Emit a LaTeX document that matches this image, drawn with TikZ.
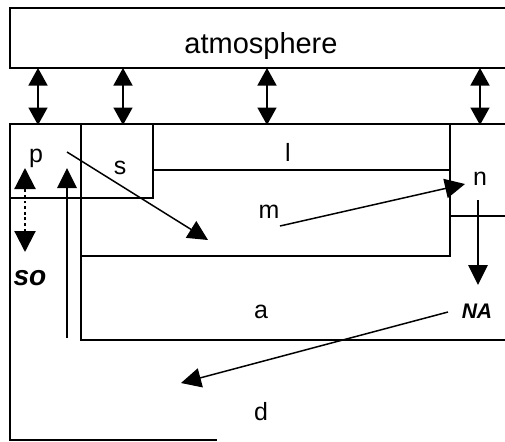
\documentclass[tikz,border=0pt]{standalone}
\usepackage{fontspec}
\setmainfont{Liberation Sans}
\usetikzlibrary{arrows.meta}

\begin{document}
\begin{tikzpicture}[
  x=0.02cm, y=-0.02cm,
  wall/.style={draw=black, line width=0.85pt},
  flux/.style={
    draw=black, line width=0.85pt,
    -{Triangle[length=4mm, width=3.9mm]}
  },
  exch/.style={
    flux, {Triangle[length=3.5mm, width=3.8mm]}-{Triangle[length=3.5mm, width=3.8mm]}
  },
  leak/.style={
    flux, line width=1.2pt, dash pattern=on 1.6pt off 1.6pt,
    {Triangle[length=4.2mm, width=4.2mm]}-{Triangle[length=4.2mm, width=4.2mm]}
  },
  pool/.style={inner sep=0pt, anchor=base, font=\fontsize{14.2}{17}\selectfont},
  atmo/.style={pool, font=\fontsize{16.5}{20}\selectfont},
  emis/.style={pool, font=\fontsize{12}{14}\selectfont\bfseries\itshape},
  soil/.style={pool, font=\fontsize{16}{19}\selectfont\bfseries\itshape}
]
\useasboundingbox (0,0) rectangle (505,441);

\draw[wall] (505,8) -- (10,8) -- (10,68) -- (505,68);
\draw[wall] (217,440) -- (10,440) -- (10,124) -- (505,124);
\draw[wall] (81,124) -- (81,340) -- (505,340);
\draw[wall] (10,198) -- (153,198) -- (153,124);
\draw[wall] (153,170) -- (450,170);
\draw[wall] (450,124) -- (450,256) -- (81,256);
\draw[wall] (450,216) -- (505,216);

\node[atmo] (atm) at (261,53) {atmosphere};
\node[pool] (p) at (36,162) {p};
\node[pool] (s) at (120,174) {s};
\node[pool] (l) at (288,161) {l};
\node[pool] (m) at (269,218) {m};
\node[pool] (n) at (480,185) {n};
\node[pool] (a) at (261,318) {a};
\node[pool] (d) at (261,420) {d};
\node[soil] (so) at (30,285) {so};
\node[emis] (NA) at (477,318) {NA};

\foreach \ax in {38, 123, 267, 480}
  \draw[exch] (\ax,68) -- (\ax,125);

\coordinate (pOut) at (67,152);
\coordinate (pIn) at (208,240);
\coordinate (mOut) at (280,226);
\coordinate (nIn) at (465,184);
\coordinate (nOut) at (478,200);
\coordinate (nDown) at (478,285);
\coordinate (naOut) at (448,312);
\coordinate (naIn) at (181,383);
\coordinate (rootBase) at (67,338);
\coordinate (rootTop) at (67,168);
\coordinate (soTop) at (25,168);
\coordinate (soBot) at (25,252);

\draw[flux] (pOut) -- (pIn);
\draw[flux] (mOut) -- (nIn);
\draw[flux] (nOut) -- (nDown);
\draw[flux] (naOut) -- (naIn);
\draw[flux] (rootBase) -- (rootTop);
\draw[leak] (soBot) -- (soTop);
\end{tikzpicture}
\end{document}
